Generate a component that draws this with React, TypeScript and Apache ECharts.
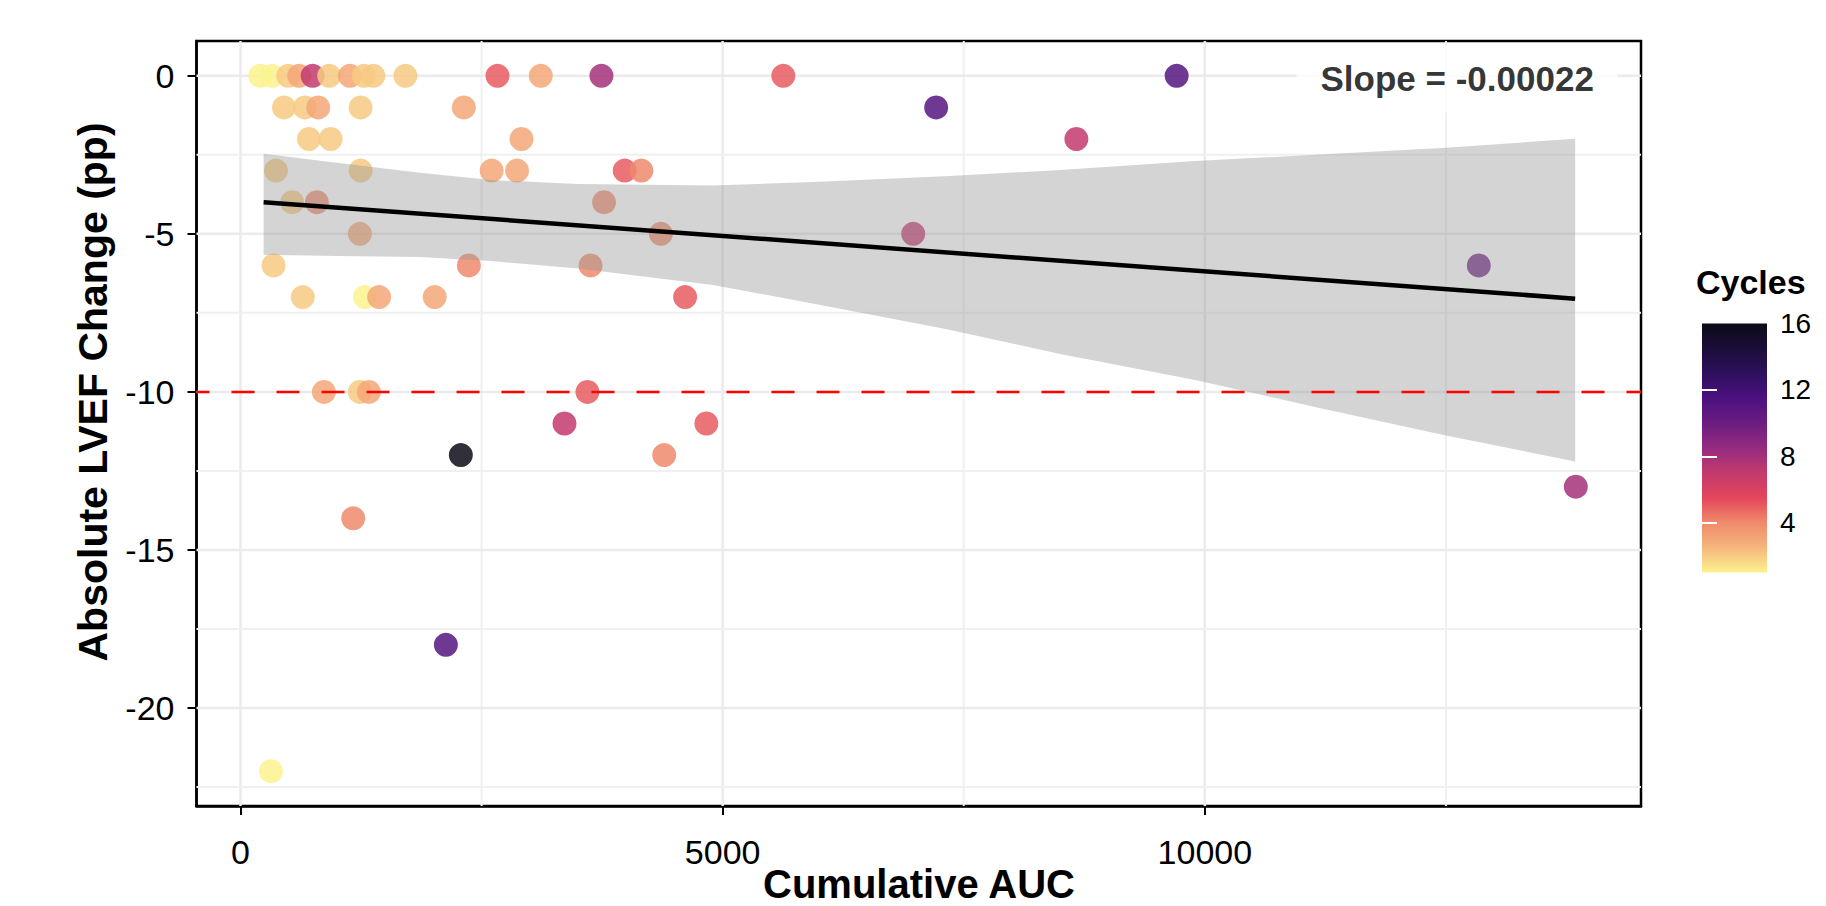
import React, { useEffect, useRef } from "react";
import * as echarts from "echarts";

// ---- data ----
const cumulativeAUC = [
  205, 328, 495, 609, 748, 920, 1135, 1280, 1378, 1710, 2665, 3114, 3743, 5629, 9708,
  451, 668, 806, 1246, 2316, 7214,
  710, 935, 2914, 8668,
  368, 1246, 2605, 2868, 3984, 4157,
  536, 792, 3770,
  1238, 4359, 6976,
  343, 2368, 3630, 12841,
  646, 1290, 1438, 2014, 4611,
  865, 1238, 1332, 3598,
  3360, 4831,
  2285, 4394,
  13847,
  1169,
  2130,
  316,
];
const lvefChange = [
  0, 0, 0, 0, 0, 0, 0, 0, 0, 0, 0, 0, 0, 0, 0,
  -1, -1, -1, -1, -1, -1,
  -2, -2, -2, -2,
  -3, -3, -3, -3, -3, -3,
  -4, -4, -4,
  -5, -5, -5,
  -6, -6, -6, -6,
  -7, -7, -7, -7, -7,
  -10, -10, -10, -10,
  -11, -11,
  -12, -12,
  -13,
  -14,
  -18,
  -22,
];
const cycles = [
  1, 1, 2, 3, 7, 2, 3, 2, 2, 2, 5, 3, 8, 5, 11,
  2, 2, 3, 2, 3, 11,
  2, 2, 3, 7,
  2, 2, 3, 3, 5, 4,
  2, 4, 4,
  3, 4, 7,
  2, 4, 4, 10,
  2, 1, 3, 3, 5,
  3, 2, 3, 5,
  7, 5,
  16, 4,
  8,
  4,
  11,
  1,
];

const xTickValues = [0, 5000, 10000];
const xGridMajor = [0, 5000, 10000];
const xGridMinor = [2500, 7500, 12500];
const yTickValues = [0, -5, -10, -15, -20];
const yGridMajor = [0, -5, -10, -15, -20];
const yGridMinor = [-2.5, -7.5, -12.5, -17.5, -22.5];
const cycleLabelValues = [4, 8, 12, 16];
const cycleTickMarks = [4, 8, 12];

const fitX = [240, 13840];
const fitY = [-4.0, -7.05];
const bandX = [240, 1000, 1860, 2600, 3500, 4900, 6000, 7300, 8500, 9900, 11200, 12500, 13840];
const bandUpper = [-2.47, -2.75, -3.07, -3.3, -3.42, -3.47, -3.35, -3.18, -2.98, -2.7, -2.49, -2.28, -1.99];
const bandLower = [-5.66, -5.7, -5.73, -5.86, -6.1, -6.62, -7.24, -8.0, -8.8, -9.62, -10.52, -11.38, -12.2];
const thresholdY = -10;
const slopeText = "Slope = -0.00022";
const xTitle = "Cumulative AUC";
const yTitle = "Absolute LVEF Change (pp)";
const legendTitle = "Cycles";

// colour scale for cycles, light (1) to dark (16), evenly spaced
const cyclePalette = [
  "#fcf28e", "#f5b67c", "#ef8a6c", "#e4455a", "#c33a6e", "#952b7f",
  "#6c1d81", "#4b1180", "#2e0f5c", "#1b0d38", "#0c0a17",
];
const CYC_MIN = 1;
const CYC_MAX = 16;

const X_MIN = -456;
const X_MAX = 14523;
const Y_MIN = -23.1;
const Y_MAX = 1.1;

const FONT = '"Liberation Sans", Arial, Helvetica, sans-serif';

export default function App() {
  const ref = useRef<HTMLDivElement>(null);

  useEffect(() => {
    if (!ref.current) return;
    const chart = echarts.init(ref.current, undefined, { renderer: "svg" });

    const points = cumulativeAUC.map((x, i) => [x, lvefChange[i], cycles[i]]);
    const gradStops = cyclePalette
      .slice()
      .reverse()
      .map((c, i, arr) => ({ offset: i / (arr.length - 1), color: c }));

    const option: any = {
      animation: false,
      backgroundColor: "#ffffff",
      textStyle: { fontFamily: FONT },
      grid: [
        {
          left: 196.5,
          top: 41,
          width: 1444.5,
          height: 765,
          containLabel: false,
          outerBoundsMode: "none",
          show: true,
          borderColor: "#000",
          borderWidth: 2.5,
          backgroundColor: "transparent",
        },
        {
          left: 1702,
          top: 323.5,
          width: 65,
          height: 249,
          containLabel: false,
          outerBoundsMode: "none",
          show: false,
        },
      ],
      xAxis: [
        {
          gridIndex: 0,
          type: "value",
          min: X_MIN,
          max: X_MAX,
          axisLine: { show: true, onZero: false, lineStyle: { color: "#000", width: 2.5 } },
          splitLine: { show: false },
          axisTick: {
            show: true,
            customValues: xTickValues,
            length: 9,
            lineStyle: { color: "#000", width: 2 },
          },
          axisLabel: {
            customValues: xTickValues,
            formatter: (v: number) => String(v),
            fontSize: 34,
            color: "#000",
            margin: 29,
            fontFamily: FONT,
          },
        },
        { gridIndex: 1, type: "value", min: 0, max: 1, show: false },
      ],
      yAxis: [
        {
          gridIndex: 0,
          type: "value",
          min: Y_MIN,
          max: Y_MAX,
          axisLine: { show: true, onZero: false, lineStyle: { color: "#000", width: 2.5 } },
          splitLine: { show: false },
          axisTick: {
            show: true,
            customValues: yTickValues,
            length: 9,
            lineStyle: { color: "#000", width: 2 },
          },
          axisLabel: {
            customValues: yTickValues,
            formatter: (v: number) => String(v),
            fontSize: 34,
            color: "#000",
            margin: 22,
            fontFamily: FONT,
          },
        },
        {
          gridIndex: 1,
          type: "value",
          min: CYC_MIN,
          max: CYC_MAX,
          position: "right",
          z: 10,
          axisLine: { show: false },
          splitLine: { show: false },
          axisTick: {
            show: true,
            inside: true,
            length: 15,
            customValues: cycleTickMarks,
            lineStyle: { color: "#fff", width: 2 },
          },
          axisLabel: {
            customValues: cycleLabelValues,
            fontSize: 28,
            color: "#000",
            margin: 13,
            fontFamily: FONT,
          },
        },
        {
          gridIndex: 1,
          type: "value",
          min: CYC_MIN,
          max: CYC_MAX,
          position: "left",
          z: 10,
          axisLine: { show: false },
          splitLine: { show: false },
          axisTick: {
            show: true,
            inside: true,
            length: 15,
            customValues: cycleTickMarks,
            lineStyle: { color: "#fff", width: 2 },
          },
          axisLabel: { show: false },
        },
      ],
      visualMap: {
        type: "continuous",
        show: false,
        min: CYC_MIN,
        max: CYC_MAX,
        dimension: 2,
        seriesIndex: 2,
        inRange: { color: cyclePalette },
      },
      graphic: [
        {
          type: "text",
          x: 1696,
          y: 282,
          style: {
            text: legendTitle,
            fontSize: 34,
            fontWeight: "bold",
            fill: "#000",
            fontFamily: FONT,
            verticalAlign: "middle",
            align: "left",
          },
        },
        {
          type: "text",
          x: 93,
          y: 392,
          rotation: Math.PI / 2,
          style: {
            text: yTitle,
            fontSize: 41,
            fontWeight: "bold",
            fill: "#000",
            fontFamily: FONT,
            verticalAlign: "middle",
            align: "center",
          },
        },
        {
          type: "text",
          x: 919,
          y: 884,
          style: {
            text: xTitle,
            fontSize: 40,
            fontWeight: "bold",
            fill: "#000",
            fontFamily: FONT,
            verticalAlign: "middle",
            align: "center",
          },
        },
      ],
      series: [
        {
          name: "gridX",
          type: "custom",
          z: 1,
          silent: true,
          data: xGridMajor.map((v) => [v, 0, 1]).concat(xGridMinor.map((v) => [v, 0, 0])),
          encode: { x: 0, y: 1 },
          renderItem: (_p: any, api: any) => {
            const v = api.value(0);
            const major = api.value(2) === 1;
            const a = api.coord([v, Y_MIN]);
            const b = api.coord([v, Y_MAX]);
            return {
              type: "line",
              shape: { x1: a[0], y1: a[1], x2: b[0], y2: b[1] },
              style: { stroke: major ? "#ebebeb" : "#f0f0f0", lineWidth: major ? 2.5 : 2 },
            };
          },
        },
        {
          name: "gridY",
          type: "custom",
          z: 1,
          silent: true,
          data: yGridMajor.map((v) => [0, v, 1]).concat(yGridMinor.map((v) => [0, v, 0])),
          encode: { x: 0, y: 1 },
          renderItem: (_p: any, api: any) => {
            const v = api.value(1);
            const major = api.value(2) === 1;
            const a = api.coord([X_MIN, v]);
            const b = api.coord([X_MAX, v]);
            return {
              type: "line",
              shape: { x1: a[0], y1: a[1], x2: b[0], y2: b[1] },
              style: { stroke: major ? "#ebebeb" : "#f0f0f0", lineWidth: major ? 2.5 : 2 },
            };
          },
        },
        {
          name: "patients",
          type: "scatter",
          z: 2,
          data: points,
          symbolSize: 24,
          itemStyle: { opacity: 0.85 },
        },
        {
          name: "band",
          type: "custom",
          z: 3,
          silent: true,
          data: [[bandX[0], bandUpper[0]]],
          encode: { x: 0, y: 1 },
          renderItem: (_p: any, api: any) => {
            const pts: number[][] = bandX.map((x, i) => api.coord([x, bandUpper[i]]));
            for (let i = bandX.length - 1; i >= 0; i--) pts.push(api.coord([bandX[i], bandLower[i]]));
            return {
              type: "polygon",
              shape: { points: pts },
              style: { fill: "rgba(153,153,153,0.42)" },
            };
          },
        },
        {
          name: "fit",
          type: "line",
          z: 4,
          silent: true,
          symbol: "none",
          data: fitX.map((x, i) => [x, fitY[i]]),
          lineStyle: { color: "#000", width: 4.5 },
        },
        {
          name: "threshold",
          type: "line",
          z: 5,
          silent: true,
          symbol: "none",
          data: [
            [X_MIN, thresholdY],
            [X_MAX, thresholdY],
          ],
          lineStyle: { color: "#ff0000", width: 2.5, type: [23, 22], dashOffset: 10 },
        },
        {
          name: "slope",
          type: "scatter",
          z: 6,
          silent: true,
          data: [[12617, -0.1]],
          symbolSize: 1,
          itemStyle: { color: "rgba(0,0,0,0)" },
          label: {
            show: true,
            position: "inside",
            formatter: slopeText,
            fontSize: 35,
            fontWeight: "bold",
            color: "#000",
            fontFamily: FONT,
            backgroundColor: "#fff",
            padding: [16, 24],
          },
        },
        {
          name: "colorbar",
          type: "custom",
          xAxisIndex: 1,
          yAxisIndex: 1,
          z: 2,
          silent: true,
          data: [[0, CYC_MAX]],
          encode: { x: 0, y: 1 },
          renderItem: (_p: any, api: any) => {
            const a = api.coord([0, CYC_MAX]);
            const b = api.coord([1, CYC_MIN]);
            return {
              type: "rect",
              shape: { x: a[0], y: a[1], width: b[0] - a[0], height: b[1] - a[1] },
              style: { fill: new echarts.graphic.LinearGradient(0, 0, 0, 1, gradStops) },
            };
          },
        },
      ],
    };

    chart.setOption(option);
    return () => chart.dispose();
  }, []);

  return (
    <div
      ref={ref}
      style={{ position: "fixed", left: 0, top: 0, width: 1826, height: 906, background: "#fff" }}
    />
  );
}
